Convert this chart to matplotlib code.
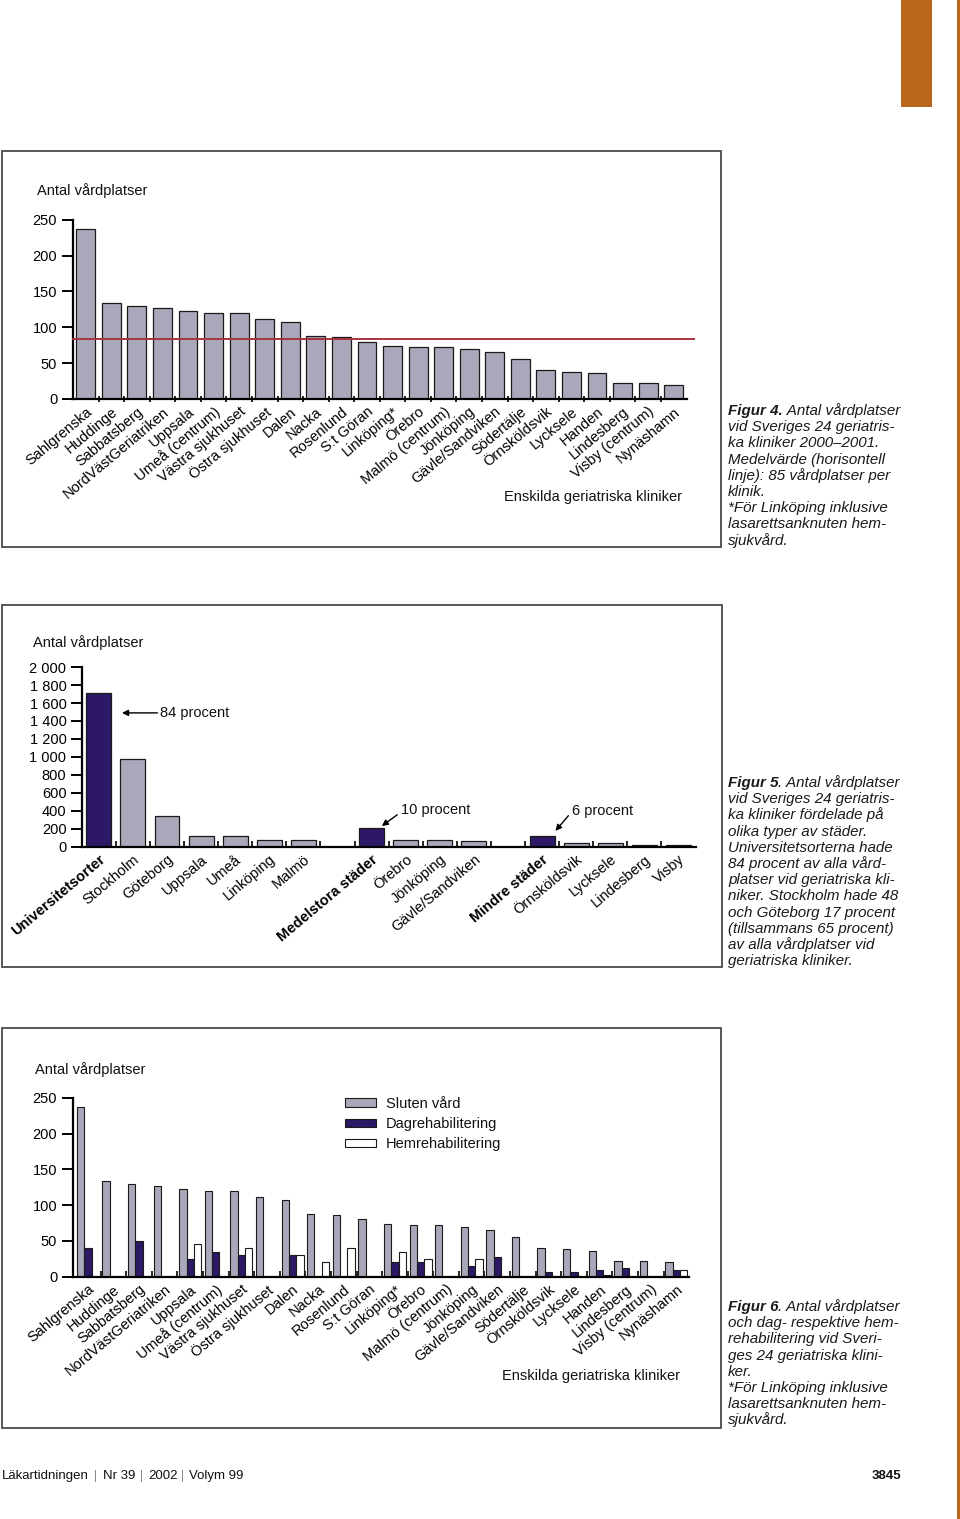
import matplotlib
matplotlib.use("Agg")
import matplotlib.pyplot as plt
from matplotlib import font_manager as fm
from matplotlib.patches import Rectangle
from matplotlib.text import Annotation

# --- data -------------------------------------------------------------
clinics = ["Sahlgrenska", "Huddinge", "Sabbatsberg", "NordVästGeriatriken", "Uppsala",
           "Umeå (centrum)", "Västra sjukhuset", "Östra sjukhuset", "Dalen", "Nacka",
           "Rosenlund", "S:t Göran", "Linköping*", "Örebro", "Malmö (centrum)", "Jönköping",
           "Gävle/Sandviken", "Södertälje", "Örnsköldsvik", "Lycksele", "Handen",
           "Lindesberg", "Visby (centrum)", "Nynäshamn"]
sluten = [237, 134, 130, 127, 123, 120, 120, 111, 107, 88, 86, 80, 74, 72, 72, 70,
          65, 56, 40, 38, 36, 22, 22, 20]
dagrehab = [40, 0, 50, 0, 25, 35, 30, 0, 30, 0, 0, 0, 20, 20, 0, 15, 28, 0, 7, 6, 10, 12, 0, 10]
hemrehab = [0, 0, 0, 0, 45, 0, 40, 0, 30, 20, 40, 0, 35, 25, 0, 25, 0, 0, 0, 0, 2, 0, 0, 10]
mean_value = 84

group_names = ["Universitetsorter", "Medelstora städer", "Mindre städer"]
group_totals = [1716, 207, 122]
group_cities = [["Stockholm", "Göteborg", "Uppsala", "Umeå", "Linköping", "Malmö"],
                ["Örebro", "Jönköping", "Gävle/Sandviken"],
                ["Örnsköldsvik", "Lycksele", "Lindesberg", "Visby"]]
group_city_values = [[981, 346, 123, 120, 74, 72],
                     [72, 70, 65],
                     [40, 38, 22, 22]]
group_shares = ["84 procent", "10 procent", "6 procent"]

# --- style --------------------------------------------------------------
W, H = 960, 1519
GREY = "#a9a8bb"
PURPLE = "#2d1866"
RED = "#a6333f"
ORANGE = "#b7661c"
EDGE = "#1a1a1a"


def has_font(name):
    try:
        fm.findfont(fm.FontProperties(family=name), fallback_to_default=False)
        return True
    except ValueError:
        return False


if has_font("Liberation Sans Narrow"):
    cond = "Liberation Sans Narrow"
    fs = 12.5
else:
    cond = "Liberation Sans"
    fs = 10.5
plt.rcParams["font.family"] = [cond, "DejaVu Sans"]
plt.rcParams["text.color"] = "#111111"


def rect(left, top, right, bottom):
    # pixel box -> figure fraction
    return [left / W, 1 - bottom / H, (right - left) / W, (bottom - top) / H]


def fx(x):
    return x / W


def fy(y):
    return 1 - y / H


def style_axes(ax, yticks, ylabels):
    for s in ["top", "right"]:
        ax.spines[s].set_visible(False)
    for s in ["left", "bottom"]:
        ax.spines[s].set_linewidth(1.6)
        ax.spines[s].set_color("black")
    ax.set_yticks(yticks)
    ax.set_yticklabels(ylabels, fontsize=fs)
    ax.tick_params(axis="y", length=8, width=1.4, pad=3)
    ax.tick_params(axis="x", which="major", length=0, pad=4)
    ax.patch.set_alpha(0)


fig = plt.figure(figsize=(W / 100, H / 100), dpi=100)

# page decorations
fig.add_artist(Rectangle((fx(901), fy(107)), (932 - 901) / W, 107 / H,
                         transform=fig.transFigure, color=ORANGE, lw=0))
fig.add_artist(Rectangle((fx(957), 0), 3 / W, 1, transform=fig.transFigure, color=ORANGE, lw=0))
for (l, t, r, b) in [(2, 151, 721, 547), (2, 605, 722, 967), (2, 1028, 721, 1428)]:
    fig.add_artist(Rectangle((fx(l), fy(b)), (r - l) / W, (b - t) / H, transform=fig.transFigure,
                             fill=False, edgecolor="#4a4a4a", lw=1.3))

# --- Figur 4 ------------------------------------------------------------
ax4 = fig.add_axes(rect(72.5, 219.7, 687, 399))
x = list(range(len(clinics)))
ax4.bar(x, sluten, width=0.74, color=GREY, edgecolor=EDGE, linewidth=0.9, zorder=2)
ax4.axhline(mean_value, xmin=0, xmax=1.012, color=RED, lw=1.4, clip_on=False, zorder=3)
ax4.set_xlim(-0.52, 23.52)
ax4.set_ylim(0, 250)
style_axes(ax4, [0, 50, 100, 150, 200, 250], ["0", "50", "100", "150", "200", "250"])
ax4.set_xticks(x)
ax4.set_xticklabels(clinics, rotation=40, ha="right", va="top", rotation_mode="anchor", fontsize=fs)
ax4.set_xticks([i + 0.5 for i in x[:-1]], minor=True)
ax4.tick_params(axis="x", which="minor", length=5, width=1.2, direction="inout")
fig.text(fx(37), fy(191), "Antal vårdplatser", fontsize=fs, va="center", ha="left")
fig.text(fx(682), fy(497), "Enskilda geriatriska kliniker", fontsize=fs, va="center", ha="right")

# --- Figur 5 ------------------------------------------------------------
ax5 = fig.add_axes(rect(81.7, 667.1, 695.6, 846.7))
pos = 0
ticks5, labels5, bold5 = [], [], []
for name, total, cities, vals in zip(group_names, group_totals, group_cities, group_city_values):
    ax5.bar(pos, total, width=0.73, color=PURPLE, edgecolor=EDGE, linewidth=0.9, zorder=2)
    ticks5.append(pos)
    labels5.append(name)
    bold5.append(True)
    cx = [pos + 1 + k for k in range(len(cities))]
    ax5.bar(cx, vals, width=0.73, color=GREY, edgecolor=EDGE, linewidth=0.9, zorder=2)
    ticks5 += cx
    labels5 += cities
    bold5 += [False] * len(cities)
    pos += len(cities) + 2
ax5.set_xlim(-0.5, 17.5)
ax5.set_ylim(0, 2000)
yt5 = list(range(0, 2001, 200))
style_axes(ax5, yt5, [f"{v:,}".replace(",", " ") for v in yt5])
ax5.set_xticks(ticks5)
ax5.set_xticklabels(labels5, rotation=40, ha="right", va="top", rotation_mode="anchor", fontsize=fs)
for lab, b in zip(ax5.get_xticklabels(), bold5):
    if b:
        lab.set_fontweight("bold")
ax5.set_xticks([i + 0.5 for i in range(17)], minor=True)
ax5.tick_params(axis="x", which="minor", length=4, width=1.2, direction="in")
fig.text(fx(33), fy(643), "Antal vårdplatser", fontsize=fs, va="center", ha="left")

arrow = dict(arrowstyle="-|>", color="black", lw=1.0, mutation_scale=9, shrinkA=0, shrinkB=0)
ax5.text(1.8, 1490, group_shares[0], fontsize=fs, va="center", ha="left")
ax5.annotate("", xy=(0.68, 1490), xytext=(1.72, 1490), arrowprops=arrow)
ax5.text(8.87, 409, group_shares[1], fontsize=fs, va="center", ha="left")
ax5.annotate("", xy=(8.3, 230), xytext=(8.75, 355), arrowprops=arrow)
ax5.text(13.89, 398, group_shares[2], fontsize=fs, va="center", ha="left")
ax5.annotate("", xy=(13.39, 176), xytext=(13.77, 345), arrowprops=arrow)

# --- Figur 6 ------------------------------------------------------------
ax6 = fig.add_axes(rect(72.5, 1097.7, 688.7, 1276.7))
bw = 0.287
ax6.bar([i - bw for i in x], sluten, width=bw, color=GREY, edgecolor=EDGE, linewidth=0.8,
        zorder=2, label="Sluten vård")
ax6.bar(x, dagrehab, width=bw, color=PURPLE, edgecolor=EDGE, linewidth=0.8,
        zorder=2, label="Dagrehabilitering")
ax6.bar([i + bw for i in x], hemrehab, width=bw, color="white", edgecolor=EDGE, linewidth=0.8,
        zorder=2, label="Hemrehabilitering")
ax6.set_xlim(-0.6, 23.48)
ax6.set_ylim(0, 250)
style_axes(ax6, [0, 50, 100, 150, 200, 250], ["0", "50", "100", "150", "200", "250"])
ax6.set_xticks(x)
ax6.set_xticklabels(clinics, rotation=40, ha="right", va="top", rotation_mode="anchor", fontsize=fs)
ax6.set_xticks([i - 0.5 for i in x[1:]], minor=True)
ax6.tick_params(axis="x", which="minor", length=4, width=1.2, direction="in")
ax6.legend(loc="upper left", bbox_to_anchor=(fx(345), fy(1097)), bbox_transform=fig.transFigure,
           frameon=False, fontsize=fs, handlelength=2.1, handleheight=0.55, labelspacing=0.42,
           handletextpad=0.7, borderaxespad=0, borderpad=0)
fig.text(fx(35), fy(1070), "Antal vårdplatser", fontsize=fs, va="center", ha="left")
fig.text(fx(680), fy(1376), "Enskilda geriatriska kliniker", fontsize=fs, va="center", ha="right")

# --- captions -----------------------------------------------------------
cap_font = ["Liberation Sans", "DejaVu Sans"]
cap_fs = 10.9
captions = [
    (415, "Figur 4.", " Antal vårdplatser",
     ["vid Sveriges 24 geriatris-", "ka kliniker 2000–2001.", "Medelvärde (horisontell",
      "linje): 85 vårdplatser per", "klinik.", "*För Linköping inklusive",
      "lasarettsanknuten hem-", "sjukvård."]),
    (787, "Figur 5", ". Antal vårdplatser",
     ["vid Sveriges 24 geriatris-", "ka kliniker fördelade på", "olika typer av städer.",
      "Universitetsorterna hade", "84 procent av alla vård-", "platser vid geriatriska kli-",
      "niker. Stockholm hade 48", "och Göteborg 17 procent", "(tillsammans 65 procent)",
      "av alla vårdplatser vid", "geriatriska kliniker."]),
    (1311, "Figur 6", ". Antal vårdplatser",
     ["och dag- respektive hem-", "rehabilitering vid Sveri-", "ges 24 geriatriska klini-",
      "ker.", "*För Linköping inklusive", "lasarettsanknuten hem-", "sjukvård."]),
]
for base, bold, rest, lines in captions:
    t = fig.text(fx(728), fy(base), bold, family=cap_font, fontsize=cap_fs, style="italic",
                 fontweight="bold", va="baseline", ha="left", color="#1a1a1a")
    fig.add_artist(Annotation(rest, xy=(1, 0), xycoords=t, va="bottom", ha="left",
                              family=cap_font, fontsize=cap_fs, style="italic", color="#1a1a1a"))
    for k, line in enumerate(lines):
        fig.text(fx(728), fy(base + 16.2 * (k + 1)), line, family=cap_font, fontsize=cap_fs,
                 style="italic", va="baseline", ha="left", color="#1a1a1a")

# --- footer -------------------------------------------------------------
footer_parts = ["Läkartidningen", "Nr 39", "2002", "Volym 99"]
footer_x = [2, 103, 148, 189]
sep_x = [94, 140, 181]
for part, px in zip(footer_parts, footer_x):
    fig.text(fx(px), fy(1476), part, fontsize=fs - 1, va="center", ha="left")
for px in sep_x:
    fig.text(fx(px), fy(1476), "|", fontsize=fs - 2, va="center", ha="left", color="#888888")
fig.text(fx(901), fy(1476), "3845", fontsize=fs - 1, fontweight="bold", va="center", ha="right")

fig.savefig("out.png", dpi=100)
